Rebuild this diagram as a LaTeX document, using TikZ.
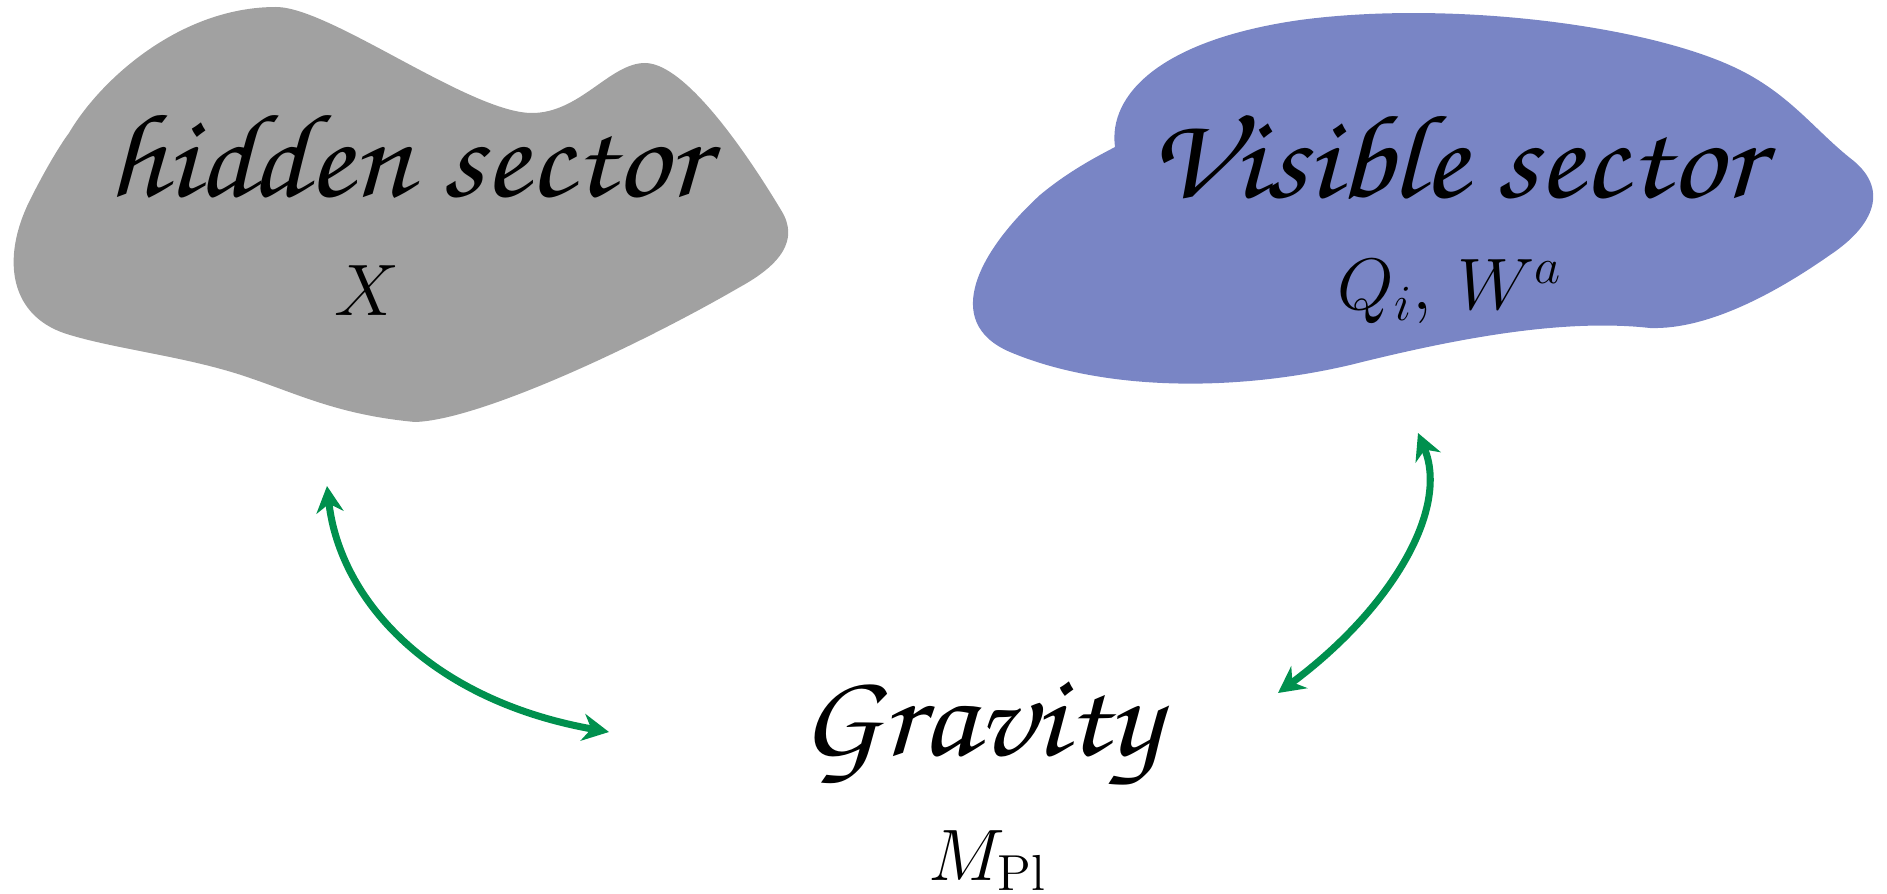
\documentclass[tikz,border=0pt]{standalone}
\usepackage{amsmath}
\usepackage{tikz}
\usetikzlibrary{arrows.meta}

\definecolor{hiddengray}{RGB}{161,161,161}
\definecolor{visibleblue}{RGB}{121,133,197}
\definecolor{gravgreen}{RGB}{0,144,78}

\newcommand{\chancery}{\fontencoding{T1}\fontfamily{pzc}\fontseries{mb}\fontshape{it}\selectfont}
\newcommand{\sectorname}[1]{\scalebox{1.1}[1]{#1}}

\begin{document}
\begin{tikzpicture}[x=0.01cm,y=-0.01cm]
\useasboundingbox (0,0) rectangle (1887,894);
% the two sectors
\fill [hiddengray] (69,133) .. controls (100,80) and (180,7) .. (276,7)
    .. controls (330,7) and (470,113) .. (532,113)
    .. controls (580,113) and (610,63) .. (645,63)
    .. controls (690,63) and (760,175) .. (781,210)
    .. controls (800,240) and (780,265) .. (740,287)
    .. controls (640,345) and (480,420) .. (415,422)
    .. controls (340,415) and (300,395) .. (250,378)
    .. controls (190,357) and (120,350) .. (70,335)
    .. controls (10,318) and (0,260) .. (30,200)
    .. controls (45,170) and (60,145) .. (69,133) -- cycle;
\fill [visibleblue] (1115,147) .. controls (1108,95) and (1160,40) .. (1300,20)
    .. controls (1450,0) and (1650,25) .. (1740,70)
    .. controls (1790,95) and (1815,130) .. (1850,158)
    .. controls (1890,188) and (1875,225) .. (1830,255)
    .. controls (1780,290) and (1710,330) .. (1650,328)
    .. controls (1560,318) and (1450,340) .. (1350,365)
    .. controls (1230,393) and (1100,390) .. (1010,352)
    .. controls (940,322) and (980,250) .. (1040,195)
    .. controls (1070,170) and (1100,155) .. (1115,147) -- cycle;
\begin{scope}[every node/.style={anchor=base,inner sep=3pt},
              sector_text/.style={font=\chancery\fontsize{34}{40}\selectfont},
              field_text/.style={font=\fontsize{21}{25}\selectfont}]
    \node [sector_text] (hidden) at (407,197) {\sectorname{hidden sector}};
    \node [field_text] (hiddenfield) at (367,315) {$X$};
    \node [sector_text] (visible) at (1455,198) {\sectorname{Visible sector}};
    \node [field_text] (visiblefield) at (1450,310) {$Q_i,\, W^a$};
    \node [sector_text] (gravity) at (980,755) {\sectorname{Gravity}};
    \node [field_text] (mpl) at (988,880) {$M_{\mathrm{Pl}}$};
\end{scope}
\coordinate (hid_end) at (327,486);
\coordinate (vis_end) at (1418,433);
\coordinate (grav_left) at (609,732);
\coordinate (grav_right) at (1278,693);
\begin{scope}[>={Stealth[length=7.5pt,width=7.7pt,inset=2.4pt]},
              green_edge/.style={draw=gravgreen,fill=none,line width=2pt}]
    \draw [<->,green_edge] (hid_end) .. controls (340,600) and (430,700) .. (grav_left);
    \draw [<->,green_edge] (vis_end) .. controls (1450,510) and (1390,610) .. (grav_right);
\end{scope}
\end{tikzpicture}
\end{document}
